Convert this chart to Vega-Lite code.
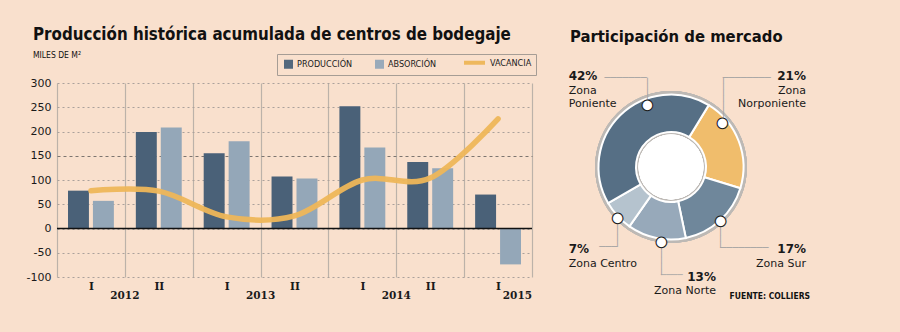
{
  "$schema": "https://vega.github.io/schema/vega-lite/v6.json",
  "background": "#f9e0cd",
  "autosize": {"type": "none"},
  "padding": {"left": 57, "top": 83, "right": 843, "bottom": 249},
  "config": {
    "view": {"stroke": null},
    "text": {"color": "#1a1a1a"},
    "title": {"color": "#111111", "subtitleColor": "#111111"}
  },
  "bounds": "flush",
  "spacing": 39,
  "resolve": {"scale": {"color": "independent", "theta": "independent"}, "legend": {"color": "independent"}},
  "title": {"text": "FUENTE: COLLIERS", "orient": "bottom", "anchor": "end", "font": "DejaVu Sans Condensed", "fontSize": 8.5, "fontWeight": "bold", "offset": -10, "dx": -22, "color": "#111111"},
  "datasets": {
    "barras": [
      {"periodo": "2012-I", "serie": "PRODUCCIÓN", "valor": 78},
      {"periodo": "2012-I", "serie": "ABSORCIÓN", "valor": 57},
      {"periodo": "2012-I", "serie": "VACANCIA", "valor": 78},
      {"periodo": "2012-II", "serie": "PRODUCCIÓN", "valor": 199},
      {"periodo": "2012-II", "serie": "ABSORCIÓN", "valor": 208},
      {"periodo": "2012-II", "serie": "VACANCIA", "valor": 77},
      {"periodo": "2013-I", "serie": "PRODUCCIÓN", "valor": 155},
      {"periodo": "2013-I", "serie": "ABSORCIÓN", "valor": 180},
      {"periodo": "2013-I", "serie": "VACANCIA", "valor": 24},
      {"periodo": "2013-II", "serie": "PRODUCCIÓN", "valor": 107},
      {"periodo": "2013-II", "serie": "ABSORCIÓN", "valor": 103},
      {"periodo": "2013-II", "serie": "VACANCIA", "valor": 26},
      {"periodo": "2014-I", "serie": "PRODUCCIÓN", "valor": 252},
      {"periodo": "2014-I", "serie": "ABSORCIÓN", "valor": 167},
      {"periodo": "2014-I", "serie": "VACANCIA", "valor": 100},
      {"periodo": "2014-II", "serie": "PRODUCCIÓN", "valor": 137},
      {"periodo": "2014-II", "serie": "ABSORCIÓN", "valor": 124},
      {"periodo": "2014-II", "serie": "VACANCIA", "valor": 104},
      {"periodo": "2015-I", "serie": "PRODUCCIÓN", "valor": 70},
      {"periodo": "2015-I", "serie": "ABSORCIÓN", "valor": -74},
      {"periodo": "2015-I", "serie": "VACANCIA", "valor": 226}
    ],
    "anios": [
      {"periodo": "2012-II", "anio": "2012"},
      {"periodo": "2013-II", "anio": "2013"},
      {"periodo": "2014-II", "anio": "2014"}
    ],
    "anioFinal": [
      {"periodo": "2015-I", "anio": "2015"}
    ],
    "mercado": [
      {"zona": "Zona Norponiente", "share": 0.21, "orden": 1},
      {"zona": "Zona Sur", "share": 0.17, "orden": 2},
      {"zona": "Zona Norte", "share": 0.13, "orden": 3},
      {"zona": "Zona Centro", "share": 0.07, "orden": 4},
      {"zona": "Zona Poniente", "share": 0.42, "orden": 5}
    ]
  },
  "hconcat": [
    {
      "width": 475,
      "height": 194,
      "title": {
        "text": "Producción histórica acumulada de centros de bodegaje",
        "subtitle": "MILES DE M²",
        "anchor": "start",
        "frame": "group",
        "dx": -24,
        "offset": -6,
        "font": "DejaVu Sans Condensed",
        "fontSize": 16.8,
        "fontWeight": "bold",
        "subtitleFont": "DejaVu Sans Condensed",
        "subtitleFontSize": 8.5,
        "subtitlePadding": 7
      },
      "layer": [
        {
          "data": {"name": "barras"},
          "transform": [{"filter": "datum.serie !== 'VACANCIA'"}],
          "mark": {"type": "bar"},
          "encoding": {
            "x": {
              "field": "periodo", "type": "nominal",
              "scale": {"domain": ["2012-I", "2012-II", "2013-I", "2013-II", "2014-I", "2014-II", "2015-I"], "paddingInner": 0, "paddingOuter": 0},
              "axis": {
                "title": null, "labelExpr": "split(datum.value, '-')[1]", "tickBand": "extent",
                "grid": true, "gridColor": "#bcb2a9", "gridWidth": 1.2, "domain": false, "ticks": false,
                "labelAngle": 0, "labelPadding": 4, "labelFont": "DejaVu Serif", "labelFontWeight": "bold",
                "labelFontSize": 10.5, "labelColor": "#1a1a1a"
              }
            },
            "xOffset": {"field": "serie", "type": "nominal", "sort": ["PRODUCCIÓN", "ABSORCIÓN"], "scale": {"paddingInner": 0.16, "paddingOuter": 0.44}},
            "y": {
              "field": "valor", "type": "quantitative",
              "scale": {"domain": [-100, 300], "nice": false},
              "axis": {
                "title": null, "values": [-100, -50, 0, 50, 100, 150, 200, 250, 300], "tickCount": 10, "labelOverlap": false,
                "labelExpr": "replace(datum.label, '−', '-')",
                "grid": true,
                "gridDash": {"condition": {"test": "datum.value === 150", "value": [3, 3]}, "value": [2, 3]},
                "gridColor": {"condition": {"test": "datum.value === 150", "value": "#7d756f"}, "value": "#aaa19b"},
                "domain": false, "ticks": false,
                "labelPadding": 6, "labelFont": "DejaVu Sans", "labelFontSize": 11, "labelColor": "#1a1a1a",
                "minExtent": 30, "maxExtent": 30
              }
            },
            "color": {
              "field": "serie", "type": "nominal",
              "scale": {"domain": ["PRODUCCIÓN", "ABSORCIÓN", "VACANCIA"], "range": ["#4a6178", "#94a7b8", "#eeb658"]},
              "legend": {
                "title": null, "orient": "none", "legendX": 220, "legendY": -29, "direction": "horizontal",
                "strokeColor": "#a69d95", "padding": 4, "labelFont": "DejaVu Sans Condensed", "labelFontSize": 9,
                "labelColor": "#1a1a1a", "columnPadding": 19, "symbolOffset": 3,
                "labelOffset": {"expr": "datum.value === 'VACANCIA' ? 11 : 4"},
                "symbolType": {"expr": "datum.value === 'VACANCIA' ? 'stroke' : 'square'"},
                "symbolSize": {"expr": "datum.value === 'VACANCIA' ? 441 : 81"},
                "symbolStrokeWidth": {"expr": "datum.value === 'VACANCIA' ? 4 : 0"},
                "symbolStrokeColor": {"expr": "datum.value === 'VACANCIA' ? '#eeb658' : 'transparent'"}
              }
            }
          }
        },
        {
          "data": {"name": "barras"},
          "transform": [{"filter": "datum.serie === 'VACANCIA'"}],
          "mark": {"type": "line", "interpolate": "cardinal", "strokeWidth": 5.5, "strokeCap": "round", "opacity": 0.95},
          "encoding": {
            "x": {"field": "periodo", "type": "nominal"},
            "y": {"field": "valor", "type": "quantitative"},
            "color": {"field": "serie", "type": "nominal"}
          }
        },
        {
          "data": {"values": [{}]},
          "mark": {"type": "rule", "color": "#111111", "strokeWidth": 1.5},
          "encoding": {"y": {"datum": 0, "type": "quantitative"}}
        },
        {
          "data": {"name": "anios"},
          "mark": {"type": "text", "dy": 19, "baseline": "middle", "align": "center", "font": "DejaVu Serif", "fontWeight": "bold", "fontSize": 10.5},
          "encoding": {
            "x": {"field": "periodo", "type": "nominal", "bandPosition": 0},
            "y": {"datum": -100, "type": "quantitative"},
            "text": {"field": "anio"}
          }
        },
        {
          "data": {"name": "anioFinal"},
          "mark": {"type": "text", "dy": 19, "baseline": "middle", "align": "right", "font": "DejaVu Serif", "fontWeight": "bold", "fontSize": 10.5},
          "encoding": {
            "x": {"field": "periodo", "type": "nominal", "bandPosition": 1},
            "y": {"datum": -100, "type": "quantitative"},
            "text": {"field": "anio"}
          }
        }
      ]
    },
    {
      "width": 200,
      "height": 168,
      "title": {
        "text": "Participación de mercado",
        "anchor": "start", "frame": "group", "baseline": "alphabetic", "offset": -25, "dx": -1,
        "font": "DejaVu Sans Condensed", "fontSize": 16.5, "fontWeight": "bold"
      },
      "data": {"name": "mercado"},
      "layer": [
        {
          "mark": {"type": "arc", "theta": 0, "theta2": 6.2832, "radius": 76, "radius2": 31, "fill": "#bdb9b5"},
          "encoding": {}
        },
        {
          "mark": {"type": "arc", "radius": 72.5, "radius2": 35, "stroke": "#ffffff", "strokeWidth": 2},
          "encoding": {
            "theta": {"field": "share", "type": "quantitative", "stack": true, "scale": {"range": [0.548, 6.831]}},
            "order": {"field": "orden"},
            "color": {
              "field": "zona", "type": "nominal",
              "scale": {"domain": ["Zona Poniente", "Zona Norponiente", "Zona Sur", "Zona Norte", "Zona Centro"], "range": ["#566f85", "#f0bd6c", "#6f879b", "#97a9ba", "#b5c3ce"]},
              "legend": null
            }
          }
        },
        {
          "mark": {"type": "arc", "theta": 0, "theta2": 6.2832, "radius": 32.5, "fill": "#ffffff"},
          "encoding": {}
        },
        {
          "mark": {"type": "text", "radius": 100, "angle": 0, "align": "right", "baseline": "middle", "dx": 45.4, "dy": -17.6, "font": "DejaVu Sans", "fontSize": 10, "fill": "#a3a3a3"},
          "encoding": {
            "theta": {"field": "share", "type": "quantitative", "stack": true},
            "order": {"field": "orden"},
            "text": {"condition": {"test": "datum.zona === 'Zona Poniente'", "value": "───────"}, "value": ""}
          }
        },
        {
          "mark": {"type": "text", "radius": 100, "angle": 90, "align": "left", "baseline": "middle", "dx": -17.6, "dy": -45.4, "font": "DejaVu Sans", "fontSize": 10, "fill": "#a3a3a3"},
          "encoding": {
            "theta": {"field": "share", "type": "quantitative", "stack": true},
            "order": {"field": "orden"},
            "text": {"condition": {"test": "datum.zona === 'Zona Poniente'", "value": "─────"}, "value": ""}
          }
        },
        {
          "mark": {"type": "text", "radius": 100, "angle": 0, "align": "left", "baseline": "middle", "dx": -41.8, "dy": -53.8, "font": "DejaVu Sans", "fontSize": 10, "fill": "#a3a3a3"},
          "encoding": {
            "theta": {"field": "share", "type": "quantitative", "stack": true},
            "order": {"field": "orden"},
            "text": {"condition": {"test": "datum.zona === 'Zona Norponiente'", "value": "────────"}, "value": ""}
          }
        },
        {
          "mark": {"type": "text", "radius": 100, "angle": 90, "align": "left", "baseline": "middle", "dx": -53.8, "dy": 41.8, "font": "DejaVu Sans", "fontSize": 10, "fill": "#a3a3a3"},
          "encoding": {
            "theta": {"field": "share", "type": "quantitative", "stack": true},
            "order": {"field": "orden"},
            "text": {"condition": {"test": "datum.zona === 'Zona Norponiente'", "value": "───────"}, "value": ""}
          }
        },
        {
          "mark": {"type": "text", "radius": 100, "angle": 0, "align": "left", "baseline": "middle", "dx": -18.1, "dy": 6.9, "font": "DejaVu Sans", "fontSize": 10, "fill": "#a3a3a3"},
          "encoding": {
            "theta": {"field": "share", "type": "quantitative", "stack": true},
            "order": {"field": "orden"},
            "text": {"condition": {"test": "datum.zona === 'Zona Sur'", "value": "────────"}, "value": ""}
          }
        },
        {
          "mark": {"type": "text", "radius": 100, "angle": 90, "align": "right", "baseline": "middle", "dx": 6.9, "dy": 18.1, "font": "DejaVu Sans", "fontSize": 10, "fill": "#a3a3a3"},
          "encoding": {
            "theta": {"field": "share", "type": "quantitative", "stack": true},
            "order": {"field": "orden"},
            "text": {"condition": {"test": "datum.zona === 'Zona Sur'", "value": "─────"}, "value": ""}
          }
        },
        {
          "mark": {"type": "text", "radius": 100, "angle": 0, "align": "left", "baseline": "middle", "dx": 10.1, "dy": 10, "font": "DejaVu Sans", "fontSize": 9, "fill": "#a3a3a3"},
          "encoding": {
            "theta": {"field": "share", "type": "quantitative", "stack": true},
            "order": {"field": "orden"},
            "text": {"condition": {"test": "datum.zona === 'Zona Norte'", "value": "────"}, "value": ""}
          }
        },
        {
          "mark": {"type": "text", "radius": 100, "angle": 90, "align": "right", "baseline": "middle", "dx": 10, "dy": -10.1, "font": "DejaVu Sans", "fontSize": 10, "fill": "#a3a3a3"},
          "encoding": {
            "theta": {"field": "share", "type": "quantitative", "stack": true},
            "order": {"field": "orden"},
            "text": {"condition": {"test": "datum.zona === 'Zona Norte'", "value": "──────"}, "value": ""}
          }
        },
        {
          "mark": {"type": "text", "radius": 100, "angle": 0, "align": "right", "baseline": "middle", "dx": 20.1, "dy": 12.3, "font": "DejaVu Sans", "fontSize": 10, "fill": "#a3a3a3"},
          "encoding": {
            "theta": {"field": "share", "type": "quantitative", "stack": true},
            "order": {"field": "orden"},
            "text": {"condition": {"test": "datum.zona === 'Zona Centro'", "value": "───"}, "value": ""}
          }
        },
        {
          "mark": {"type": "text", "radius": 100, "angle": 90, "align": "right", "baseline": "middle", "dx": 12.3, "dy": -20.1, "font": "DejaVu Sans", "fontSize": 10, "fill": "#a3a3a3"},
          "encoding": {
            "theta": {"field": "share", "type": "quantitative", "stack": true},
            "order": {"field": "orden"},
            "text": {"condition": {"test": "datum.zona === 'Zona Centro'", "value": "─────"}, "value": ""}
          }
        },
        {
          "mark": {"type": "text", "radius": 68, "dx": 23.7, "dy": -13.5, "fontSize": 14, "fill": "#ffffff", "stroke": "#1a1a1a", "strokeWidth": 1.1, "baseline": "middle", "align": "center", "font": "DejaVu Sans"},
          "encoding": {
            "theta": {"field": "share", "type": "quantitative", "stack": true},
            "order": {"field": "orden"},
            "text": {"condition": {"test": "datum.zona === 'Zona Poniente'", "value": "●"}, "value": ""}
          }
        },
        {
          "mark": {"type": "text", "radius": 68, "dx": -12.3, "dy": -20.1, "fontSize": 14, "fill": "#ffffff", "stroke": "#1a1a1a", "strokeWidth": 1.1, "baseline": "middle", "align": "center", "font": "DejaVu Sans"},
          "encoding": {
            "theta": {"field": "share", "type": "quantitative", "stack": true},
            "order": {"field": "orden"},
            "text": {"condition": {"test": "datum.zona === 'Zona Norponiente'", "value": "●"}, "value": ""}
          }
        },
        {
          "mark": {"type": "text", "radius": 68, "dx": 3.8, "dy": 3.3, "fontSize": 14, "fill": "#ffffff", "stroke": "#1a1a1a", "strokeWidth": 1.1, "baseline": "middle", "align": "center", "font": "DejaVu Sans"},
          "encoding": {
            "theta": {"field": "share", "type": "quantitative", "stack": true},
            "order": {"field": "orden"},
            "text": {"condition": {"test": "datum.zona === 'Zona Sur'", "value": "●"}, "value": ""}
          }
        },
        {
          "mark": {"type": "text", "radius": 68, "dx": 4, "dy": 7.9, "fontSize": 14, "fill": "#ffffff", "stroke": "#1a1a1a", "strokeWidth": 1.1, "baseline": "middle", "align": "center", "font": "DejaVu Sans"},
          "encoding": {
            "theta": {"field": "share", "type": "quantitative", "stack": true},
            "order": {"field": "orden"},
            "text": {"condition": {"test": "datum.zona === 'Zona Norte'", "value": "●"}, "value": ""}
          }
        },
        {
          "mark": {"type": "text", "radius": 68, "dx": -3.1, "dy": 4.9, "fontSize": 14, "fill": "#ffffff", "stroke": "#1a1a1a", "strokeWidth": 1.1, "baseline": "middle", "align": "center", "font": "DejaVu Sans"},
          "encoding": {
            "theta": {"field": "share", "type": "quantitative", "stack": true},
            "order": {"field": "orden"},
            "text": {"condition": {"test": "datum.zona === 'Zona Centro'", "value": "●"}, "value": ""}
          }
        },
        {
          "mark": {"type": "text", "radius": 100, "align": "left", "baseline": "alphabetic", "dx": -32.6, "dy": -15.3, "font": "DejaVu Sans", "fontWeight": "bold", "fontSize": 12},
          "encoding": {
            "theta": {"field": "share", "type": "quantitative", "stack": true},
            "order": {"field": "orden"},
            "text": {"condition": {"test": "datum.zona === 'Zona Poniente'", "field": "share", "type": "quantitative", "format": ".0%"}, "value": ""}
          }
        },
        {
          "mark": {"type": "text", "radius": 100, "align": "left", "baseline": "alphabetic", "dx": -32.6, "dy": -1, "lineBreak": " ", "lineHeight": 13, "font": "DejaVu Sans", "fontSize": 11},
          "encoding": {
            "theta": {"field": "share", "type": "quantitative", "stack": true},
            "order": {"field": "orden"},
            "text": {"condition": {"test": "datum.zona === 'Zona Poniente'", "field": "zona"}, "value": ""}
          }
        },
        {
          "mark": {"type": "text", "radius": 100, "align": "right", "baseline": "alphabetic", "dx": 41.5, "dy": -51.5, "font": "DejaVu Sans", "fontWeight": "bold", "fontSize": 12},
          "encoding": {
            "theta": {"field": "share", "type": "quantitative", "stack": true},
            "order": {"field": "orden"},
            "text": {"condition": {"test": "datum.zona === 'Zona Norponiente'", "field": "share", "type": "quantitative", "format": ".0%"}, "value": ""}
          }
        },
        {
          "mark": {"type": "text", "radius": 100, "align": "right", "baseline": "alphabetic", "dx": 41.5, "dy": -37.2, "lineBreak": " ", "lineHeight": 13, "font": "DejaVu Sans", "fontSize": 11},
          "encoding": {
            "theta": {"field": "share", "type": "quantitative", "stack": true},
            "order": {"field": "orden"},
            "text": {"condition": {"test": "datum.zona === 'Zona Norponiente'", "field": "zona"}, "value": ""}
          }
        },
        {
          "mark": {"type": "text", "radius": 100, "align": "right", "baseline": "alphabetic", "dx": 67.6, "dy": 11.9, "font": "DejaVu Sans", "fontWeight": "bold", "fontSize": 12},
          "encoding": {
            "theta": {"field": "share", "type": "quantitative", "stack": true},
            "order": {"field": "orden"},
            "text": {"condition": {"test": "datum.zona === 'Zona Sur'", "field": "share", "type": "quantitative", "format": ".0%"}, "value": ""}
          }
        },
        {
          "mark": {"type": "text", "radius": 100, "align": "right", "baseline": "alphabetic", "dx": 67.6, "dy": 26.2, "font": "DejaVu Sans", "fontSize": 11},
          "encoding": {
            "theta": {"field": "share", "type": "quantitative", "stack": true},
            "order": {"field": "orden"},
            "text": {"condition": {"test": "datum.zona === 'Zona Sur'", "field": "zona"}, "value": ""}
          }
        },
        {
          "mark": {"type": "text", "radius": 100, "align": "right", "baseline": "alphabetic", "dx": 65.1, "dy": 15.7, "font": "DejaVu Sans", "fontWeight": "bold", "fontSize": 12},
          "encoding": {
            "theta": {"field": "share", "type": "quantitative", "stack": true},
            "order": {"field": "orden"},
            "text": {"condition": {"test": "datum.zona === 'Zona Norte'", "field": "share", "type": "quantitative", "format": ".0%"}, "value": ""}
          }
        },
        {
          "mark": {"type": "text", "radius": 100, "align": "right", "baseline": "alphabetic", "dx": 65.1, "dy": 29, "font": "DejaVu Sans", "fontSize": 11},
          "encoding": {
            "theta": {"field": "share", "type": "quantitative", "stack": true},
            "order": {"field": "orden"},
            "text": {"condition": {"test": "datum.zona === 'Zona Norte'", "field": "zona"}, "value": ""}
          }
        },
        {
          "mark": {"type": "text", "radius": 100, "align": "left", "baseline": "alphabetic", "dx": -28.5, "dy": 18.3, "font": "DejaVu Sans", "fontWeight": "bold", "fontSize": 12},
          "encoding": {
            "theta": {"field": "share", "type": "quantitative", "stack": true},
            "order": {"field": "orden"},
            "text": {"condition": {"test": "datum.zona === 'Zona Centro'", "field": "share", "type": "quantitative", "format": ".0%"}, "value": ""}
          }
        },
        {
          "mark": {"type": "text", "radius": 100, "align": "left", "baseline": "alphabetic", "dx": -28.5, "dy": 32.6, "font": "DejaVu Sans", "fontSize": 11},
          "encoding": {
            "theta": {"field": "share", "type": "quantitative", "stack": true},
            "order": {"field": "orden"},
            "text": {"condition": {"test": "datum.zona === 'Zona Centro'", "field": "zona"}, "value": ""}
          }
        }
      ]
    }
  ]
}
